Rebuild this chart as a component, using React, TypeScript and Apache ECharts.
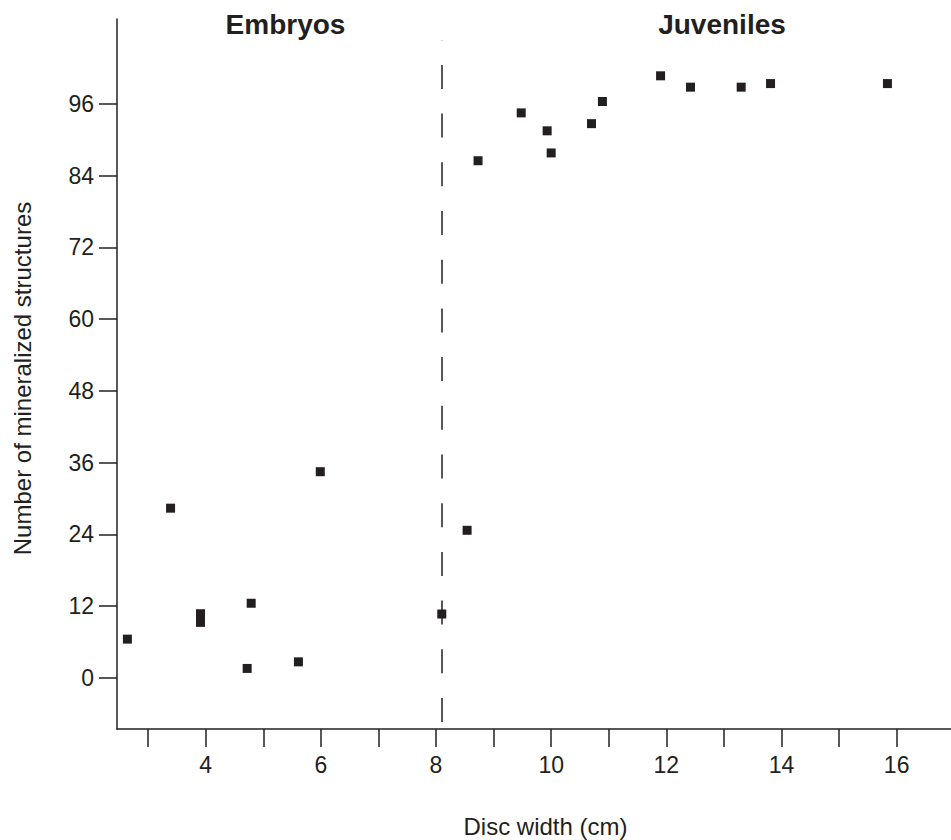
import React, { useEffect, useRef } from "react";
import * as echarts from "echarts";

// Disc width (cm) and number of mineralized structures
const discWidth = [2.64, 3.39, 3.91, 3.91, 4.79, 4.72, 5.61, 5.99, 8.1, 8.54, 8.73, 9.48, 9.93, 10.0, 10.7, 10.89, 11.9, 12.42, 13.3, 13.81, 15.84];
const structures = [6.5, 28.4, 10.75, 9.3, 12.5, 1.6, 2.7, 34.5, 10.7, 24.7, 86.5, 94.5, 91.5, 87.8, 92.7, 96.4, 100.7, 98.8, 98.8, 99.4, 99.4];

const xTicks = [3, 4, 5, 6, 7, 8, 9, 10, 11, 12, 13, 14, 15, 16];
const xLabels = [4, 6, 8, 10, 12, 14, 16];
const yTicks = [0, 12, 24, 36, 48, 60, 72, 84, 96];

const boundaryX = 8.1;
const boundaryFrom = -7.36;
const boundaryTo = 106.7;

const INK = "#231f20";
const FONT = "'Liberation Sans', Arial, Helvetica, sans-serif";

export default function App() {
  const ref = useRef<HTMLDivElement>(null);
  useEffect(() => {
    if (!ref.current) return;
    const chart = echarts.init(ref.current, null, { renderer: "svg" });
    chart.setOption({
      animation: false,
      backgroundColor: "#ffffff",
      grid: { left: 117, right: 0, top: 19, bottom: 111, containLabel: false },
      xAxis: {
        type: "value",
        min: 2.4595,
        max: 16.944,
        axisLine: { show: true, onZero: false, lineStyle: { color: INK, width: 1.5 } },
        axisTick: { show: true, length: 18, lineStyle: { color: INK, width: 1.5 }, customValues: xTicks },
        axisLabel: { margin: 24, fontSize: 23, color: INK, fontFamily: FONT, customValues: xLabels },
        splitLine: { show: false },
      },
      yAxis: {
        type: "value",
        min: -8.528,
        max: 110.2,
        axisLine: { show: true, onZero: false, lineStyle: { color: INK, width: 1.5 } },
        axisTick: { show: true, length: 18, lineStyle: { color: INK, width: 1.5 }, customValues: yTicks },
        axisLabel: { margin: 23, fontSize: 23, color: INK, fontFamily: FONT, customValues: yTicks },
        splitLine: { show: false },
      },
      graphic: [
        { type: "text", x: 285.5, y: 24.7, style: { text: "Embryos", fontSize: 28, fontWeight: "bold", fontFamily: FONT, fill: INK, align: "center", verticalAlign: "middle" } },
        { type: "text", x: 722, y: 24.7, style: { text: "Juveniles", fontSize: 28, fontWeight: "bold", fontFamily: FONT, fill: INK, align: "center", verticalAlign: "middle" } },
        { type: "text", x: 545.5, y: 826.5, style: { text: "Disc width (cm)", fontSize: 24, fontFamily: FONT, fill: INK, align: "center", verticalAlign: "middle" } },
        { type: "text", x: 22.5, y: 378.5, rotation: Math.PI / 2, style: { text: "Number of mineralized structures", fontSize: 24, fontFamily: FONT, fill: INK, align: "center", verticalAlign: "middle" } },
      ],
      series: [
        {
          type: "scatter",
          data: discWidth.map((x, i) => [x, structures[i]]),
          symbol: "rect",
          symbolSize: 9,
          itemStyle: { color: INK, opacity: 1 },
          markLine: {
            silent: true,
            symbol: ["none", "none"],
            label: { show: false },
            lineStyle: { color: INK, width: 1.5, type: [24, 24.7], opacity: 1 },
            data: [[{ coord: [boundaryX, boundaryFrom] }, { coord: [boundaryX, boundaryTo] }]],
          },
        },
      ],
    });
    return () => chart.dispose();
  }, []);
  return <div ref={ref} style={{ position: "absolute", left: 0, top: 0, width: 951, height: 840 }} />;
}
